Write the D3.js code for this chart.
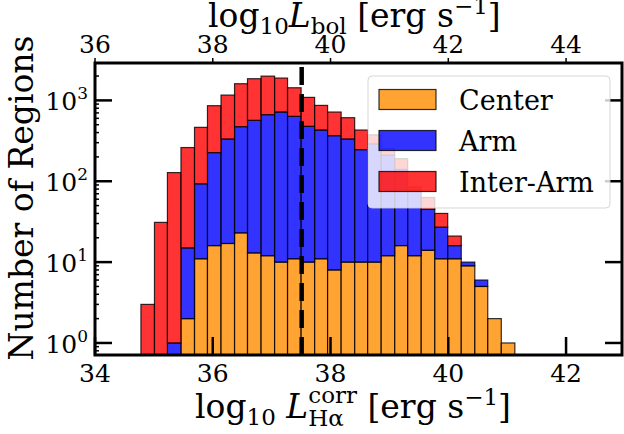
<!DOCTYPE html>
<html>
  <head>
    <meta charset="utf-8">
    <title>Regions histogram</title>
    <script src="https://d3js.org/d3.v7.min.js"></script>
    <style>
      body { margin: 0; background: #fff; }
      svg { font-family: "DejaVu Serif", serif; }
    </style>
  </head>
  <body>
    <svg id="chart" width="624" height="434"></svg>
    <script>
      // bin edges (log10 L_Halpha corr)
      binEdges = [34.78, 35.01, 35.23, 35.46, 35.69, 35.91, 36.14, 36.37, 36.59, 36.82,
        37.05, 37.27, 37.50, 37.73, 37.95, 38.18, 38.41, 38.63, 38.86, 39.09,
        39.31, 39.54, 39.77, 39.99, 40.22, 40.45, 40.67, 40.90, 41.13];
      // counts per bin, stacked in this order
      center = [0, 0, 0, 2, 11, 16, 17, 23, 13, 12, 10, 11, 10, 11, 8, 10, 10, 10, 12, 16, 12, 14, 11, 11, 9, 5, 2, 1];
      arm = [0, 0, 1, 13, 82, 210, 316, 450, 553, 654, 708, 623, 467, 419, 358, 323, 236, 280, 198, 124, 63, 31, 16, 5, 1, 1, 0, 0];
      interArm = [3, 31, 127, 246, 371, 634, 830, 1134, 1288, 1329, 1170, 799, 612, 437, 352, 278, 184, 85, 43, 50, 10, 18, 13, 5, 0, 0, 0, 0];
      seriesNames = ["Center", "Arm", "Inter-Arm"];
      seriesColours = ["darkorange", "blue", "red"];
      xTicks = [34, 36, 38, 40, 42];
      topTicks = [36, 38, 40, 42, 44];
      yTicks = [1, 10, 100, 1000];
      cutLine = 37.51;

      svg = d3.select("#chart");
      margin = { left: 95, right: 622, top: 63, bottom: 355 };
      tickSize = 25;
      labelSize = 33;
      smallSize = 23;

      x = d3.scaleLinear().domain([34, 42.95]).range([margin.left, margin.right]);
      xTop = d3.scaleLinear().domain([36, 44.95]).range([margin.left, margin.right]);
      y = d3.scaleLog().domain([0.71, 2900]).range([margin.bottom, margin.top]);

      rows = binEdges.slice(0, -1).map(function(e, i) {
        return { x0: e, x1: binEdges[i + 1], Center: center[i], Arm: arm[i], "Inter-Arm": interArm[i] };
      });
      stacked = d3.stack().keys(seriesNames)(rows);

      barGroup = svg.append("g");
      stacked.forEach(function(layer, k) {
        barGroup.selectAll(null)
          .data(layer.filter(function(d) { return d[1] > d[0]; }))
          .join("rect")
            .attr("x", function(d) { return x(d.data.x0); })
            .attr("width", function(d) { return x(d.data.x1) - x(d.data.x0); })
            .attr("y", function(d) { return y(d[1]); })
            .attr("height", function(d) {
              var bottom = d[0] > 0 ? y(d[0]) : margin.bottom;
              return bottom - y(d[1]);
            })
            .attr("fill", seriesColours[k])
            .attr("fill-opacity", 0.8)
            .attr("stroke", "#000")
            .attr("stroke-opacity", 0.8)
            .attr("stroke-width", 1.2);
      });

      // dashed vertical line
      svg.append("line")
        .attr("x1", x(cutLine)).attr("x2", x(cutLine))
        .attr("y1", margin.bottom).attr("y2", margin.top)
        .attr("stroke", "#000")
        .attr("stroke-width", 4.5)
        .attr("stroke-dasharray", "18,9");

      // ticks
      tickGroup = svg.append("g").attr("stroke", "#000");
      xTicks.forEach(function(t) {
        tickGroup.append("line")
          .attr("x1", x(t)).attr("x2", x(t))
          .attr("y1", margin.bottom).attr("y2", margin.bottom - 18)
          .attr("stroke-width", 2.5);
        svg.append("text")
          .attr("x", x(t)).attr("y", 382)
          .attr("text-anchor", "middle")
          .attr("font-size", tickSize)
          .text(t);
      });
      topTicks.forEach(function(t) {
        tickGroup.append("line")
          .attr("x1", xTop(t)).attr("x2", xTop(t))
          .attr("y1", margin.top).attr("y2", margin.top - 5)
          .attr("stroke-width", 1.5);
        svg.append("text")
          .attr("x", xTop(t)).attr("y", 53)
          .attr("text-anchor", "middle")
          .attr("font-size", tickSize)
          .text(t);
      });
      y.ticks().forEach(function(t) {
        var major = yTicks.indexOf(t) >= 0;
        var len = major ? 17 : 4;
        tickGroup.append("line")
          .attr("x1", margin.left).attr("x2", margin.left + len)
          .attr("y1", y(t)).attr("y2", y(t))
          .attr("stroke-width", major ? 2.5 : 1.5);
        if (major) {
          tickGroup.append("line")
            .attr("x1", margin.right).attr("x2", margin.right - len)
            .attr("y1", y(t)).attr("y2", y(t))
            .attr("stroke-width", 2.5);
        }
      });
      yTicks.forEach(function(t) {
        var label = svg.append("text")
          .attr("x", 88).attr("y", y(t) + 10)
          .attr("text-anchor", "end")
          .attr("font-size", tickSize);
        label.append("tspan").text("10");
        label.append("tspan")
          .attr("dy", -11).attr("font-size", 17)
          .text(Math.round(Math.log10(t)));
      });

      // frame
      svg.append("rect")
        .attr("x", margin.left).attr("y", margin.top)
        .attr("width", margin.right - margin.left)
        .attr("height", margin.bottom - margin.top)
        .attr("fill", "none")
        .attr("stroke", "#000")
        .attr("stroke-width", 3);

      // math-like labels: pieces laid out left to right
      function mathText(x0, y0, parts) {
        var g = svg.append("g");
        var cx = x0, stackStart = null, stackWidth = 0;
        parts.forEach(function(p) {
          var start = p.under ? stackStart : cx;
          var t = g.append("text")
            .attr("x", start)
            .attr("y", y0 + (p.shift || 0))
            .attr("font-size", p.size || labelSize)
            .attr("font-style", p.italic ? "italic" : null)
            .attr("xml:space", "preserve")
            .text(p.t);
          var w = t.node().getComputedTextLength();
          if (p.over) {
            stackStart = cx;
            stackWidth = w;
          } else if (p.under) {
            cx = stackStart + Math.max(stackWidth, w);
          } else {
            cx = start + w;
          }
        });
        return g;
      }

      mathText(208, 27, [
        { t: "log" },
        { t: "10", size: smallSize, shift: 7 },
        { t: "L", italic: true },
        { t: "bol", size: smallSize, shift: 7 },
        { t: " [erg s" },
        { t: "\u22121", size: smallSize, shift: -13 },
        { t: "]" }
      ]);

      mathText(195, 418, [
        { t: "log" },
        { t: "10", size: smallSize, shift: 7 },
        { t: " " },
        { t: "L", italic: true },
        { t: "corr", size: smallSize, shift: -15, over: true },
        { t: "H\u03b1", size: smallSize, shift: 8, under: true },
        { t: " [erg s" },
        { t: "\u22121", size: smallSize, shift: -13 },
        { t: "]" }
      ]);

      svg.append("text")
        .attr("transform", "translate(33,198) rotate(-90)")
        .attr("text-anchor", "middle")
        .attr("font-size", labelSize)
        .text("Number of Regions");

      // legend
      legend = svg.append("g");
      legend.append("rect")
        .attr("x", 368).attr("y", 76)
        .attr("width", 242).attr("height", 132)
        .attr("rx", 4)
        .attr("fill", "#fff").attr("fill-opacity", 0.8)
        .attr("stroke", "#ccc").attr("stroke-opacity", 0.8);
      seriesNames.forEach(function(name, i) {
        var cy = 99.5 + i * 41;
        legend.append("rect")
          .attr("x", 379).attr("y", cy - 10)
          .attr("width", 57).attr("height", 20)
          .attr("fill", seriesColours[i]).attr("fill-opacity", 0.8)
          .attr("stroke", "#000").attr("stroke-opacity", 0.8)
          .attr("stroke-width", 1.2);
        legend.append("text")
          .attr("x", 459).attr("y", cy + 10)
          .attr("font-size", 27)
          .text(name);
      });
    </script>
  </body>
</html>
